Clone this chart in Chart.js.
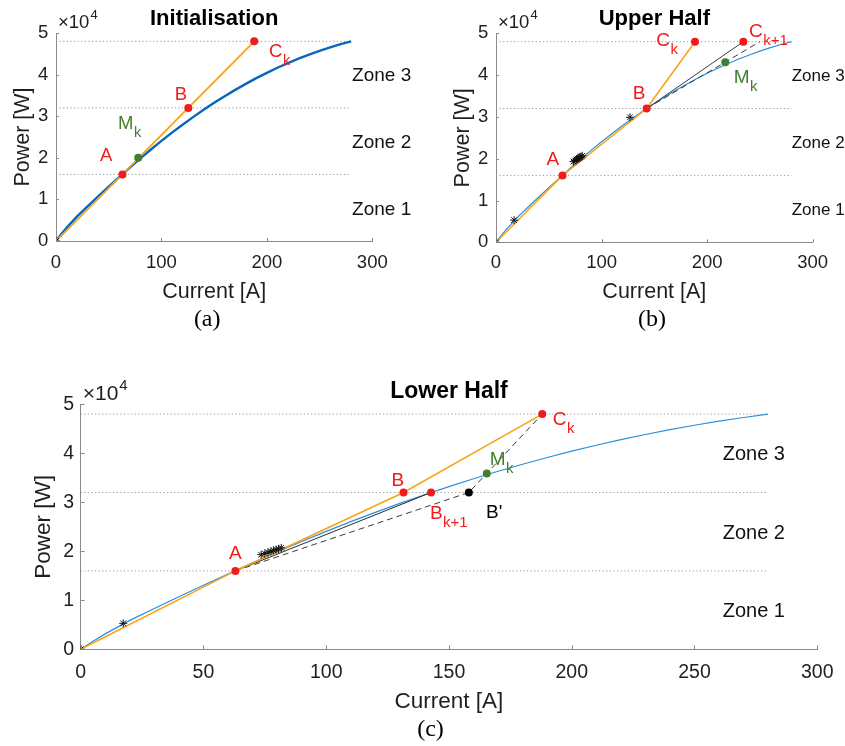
<!DOCTYPE html>
<html><head><meta charset="utf-8">
<script src="https://cdn.jsdelivr.net/npm/chart.js@4.4.0/dist/chart.umd.min.js"></script>
<style>
html,body{margin:0;padding:0;background:#fff;width:845px;height:746px;overflow:hidden;position:relative}
canvas{position:absolute}
</style></head><body>
<canvas id="ca" width="420" height="340" style="left:0;top:0"></canvas>
<canvas id="cb" width="425" height="340" style="left:420px;top:0"></canvas>
<canvas id="cc" width="845" height="396" style="left:0;top:350px"></canvas>
<script>
// ---------------- data ----------------
// shared power curve P(I)
const currentA = [0,5,10,20,30,40,50,60,70,80,90,100,110,120,130,140,150,160,170,180,190,200,210,220,230,240,250,260,270,280];
const powerW   = [0,1650,3150,5900,8330,10730,13080,15350,17650,19870,22000,24060,26050,27950,29780,31530,33210,34810,36330,37770,39140,40430,41650,42780,43840,44820,45730,46560,47310,47990];

const zoneLevels = [16000, 32000, 48000];
const zoneNames  = ['Zone 1', 'Zone 2', 'Zone 3'];
const zoneMid    = [8000, 24000, 40000];

const xTicksAB = [0, 100, 200, 300];
const xTicksC  = [0, 50, 100, 150, 200, 250, 300];
const yTicks   = [0, 10000, 20000, 30000, 40000, 50000];
const yTickLabels = ['0', '1', '2', '3', '4', '5'];
const yExponent = '4';

// (a) Initialisation: origin, A, B, C_k
const initI  = [0, 63, 125.5, 188];
const initP  = [0, 16000, 32000, 48000];
const initMk = [78, 20000];
const initStarI = [0];
const initStarP = [0];

// (b) Upper Half: origin, A, B, C_k
const upI   = [0, 63, 142.7, 188.5];
const upP   = [0, 16000, 32000, 48000];
const upCk1 = [234.3, 48000];
const upDashEnd = [250, 48000];
const upMk  = [217.2, 43100];
const upStarI = [0, 17.1, 73.5, 75, 76.3, 77.5, 78.6, 79.6, 80.6, 81.7, 126.9];
const upStarP = [0, 5300, 19300, 19550, 19800, 20000, 20200, 20350, 20500, 20700, 29900];

// (c) Lower Half: origin, A, B, C_k
const lowI   = [0, 63, 131.5, 188];
const lowP   = [0, 16000, 32000, 48000];
const lowBk1 = [142.7, 32000];
const lowBprime = [158.1, 32000];
const lowMk  = [165.4, 35900];
const lowStarI = [0, 17.3, 73.5, 75, 76.3, 77.5, 78.6, 79.6, 80.6, 81.7];
const lowStarP = [0, 5300, 19300, 19550, 19800, 20000, 20200, 20350, 20500, 20700];

// ---------------- styling ----------------
const SANS  = '"Liberation Sans", Arial, Helvetica, sans-serif';
const SERIF = '"Liberation Serif", "Times New Roman", serif';
const AXIS = '#8a8a8a', TICK = '#1f1f1f';
const RED = '#f21b1b', GREEN = '#3f7f2d', ORANGE = '#f9a31b';

const pts = (xs, ys) => xs.map((x, i) => ({x: x, y: ys[i]}));
const pt = (p) => [{x: p[0], y: p[1]}];

function lineDs(data, color, width, order, dash) {
  return {data: data, showLine: true, borderColor: color, borderWidth: width, borderDash: dash || [],
          pointRadius: 0, fill: false, tension: 0, order: order};
}
function dotDs(data, color, order) {
  return {data: data, showLine: false, pointRadius: 4, pointBackgroundColor: color, pointBorderWidth: 0,
          pointBorderColor: color, order: order};
}
function starDs(data) {
  return {data: data, showLine: false, pointStyle: 'star', pointRadius: 4, pointBorderColor: '#111',
          pointBorderWidth: 1, pointBackgroundColor: '#111', order: 0};
}
function zoneDs() {
  return zoneLevels.map(lv => lineDs([{x: currentA[0], y: lv}, {x: currentA[currentA.length - 1], y: lv}],
                                      '#9a9a9a', 1, 20, [1.2, 2.4]));
}

const decor = {
  id: 'decor',
  afterDraw(chart, args, o) {
    const ctx = chart.ctx, xs = chart.scales.x, ys = chart.scales.y, ca = chart.chartArea;
    ctx.save();
    // inward tick marks
    ctx.strokeStyle = AXIS; ctx.lineWidth = 1;
    xs.ticks.forEach(t => {
      const px = Math.round(xs.getPixelForValue(t.value)) + 0.5;
      ctx.beginPath(); ctx.moveTo(px, ca.bottom); ctx.lineTo(px, ca.bottom - o.tickLen); ctx.stroke();
    });
    ys.ticks.forEach(t => {
      const py = Math.round(ys.getPixelForValue(t.value)) + 0.5;
      ctx.beginPath(); ctx.moveTo(ca.left, py); ctx.lineTo(ca.left + o.tickLen, py); ctx.stroke();
    });
    ctx.textBaseline = 'alphabetic';
    // title
    ctx.font = 'bold ' + o.titleSize + 'px ' + SANS;
    ctx.fillStyle = '#000'; ctx.textAlign = 'center';
    ctx.fillText(o.title, (ca.left + ca.right) / 2, o.titleY + 0.358 * o.titleSize);
    // exponent x10^4
    ctx.fillStyle = TICK; ctx.textAlign = 'left';
    ctx.font = o.expSize + 'px ' + SANS;
    const ex = ca.left + 2, eb = ca.top - o.expDrop;
    ctx.fillText('\u00d710', ex, eb);
    const ew = ctx.measureText('\u00d710').width;
    ctx.font = Math.round(o.expSize * 0.72) + 'px ' + SANS;
    ctx.fillText(yExponent, ex + ew + 1, eb - o.expSize * 0.5);
    // zone labels
    ctx.font = o.zoneSize + 'px ' + SANS; ctx.fillStyle = '#111'; ctx.textAlign = 'left';
    zoneNames.forEach((z, i) => {
      ctx.fillText(z, xs.getPixelForValue(o.zoneX), ys.getPixelForValue(zoneMid[i]) + 0.358 * o.zoneSize);
    });
    // point labels
    o.labels.forEach(l => {
      const px = xs.getPixelForValue(l.at[0]) + l.dx;
      const py = ys.getPixelForValue(l.at[1]) + l.dy;
      ctx.font = o.labelSize + 'px ' + SANS; ctx.fillStyle = l.color; ctx.textAlign = 'left';
      const w0 = ctx.measureText(l.text[0]).width;
      const x0 = px - w0 / 2, base = py + 0.358 * o.labelSize;
      ctx.fillText(l.text, x0, base);
      if (l.sub) {
        const w = ctx.measureText(l.text).width;
        ctx.font = o.subSize + 'px ' + SANS;
        ctx.fillText(l.sub, x0 + w + 0.5, base + o.subDrop);
      }
    });
    // caption
    ctx.font = o.capSize + 'px ' + SERIF; ctx.fillStyle = '#000'; ctx.textAlign = 'center';
    ctx.fillText(o.caption, o.capX, o.capY + 0.25 * o.capSize);
    ctx.restore();
  }
};

function build(id, o, datasets) {
  const canvas = document.getElementById(id);
  const W = canvas.width, H = canvas.height;
  return new Chart(canvas, {
    type: 'scatter',
    data: {datasets: datasets},
    plugins: [decor],
    options: {
      responsive: false, animation: false, devicePixelRatio: 1,
      layout: {padding: {left: 0, top: o.top, right: W - o.right, bottom: 0}},
      plugins: {legend: {display: false}, tooltip: {enabled: false}, decor: o},
      scales: {
        x: {
          type: 'linear', min: 0, max: 300,
          afterFit: s => { s.height = H - o.bottom; },
          afterBuildTicks: s => { s.ticks = o.xTicks.map(v => ({value: v})); },
          ticks: {font: {size: o.tickSize, family: SANS}, color: TICK, padding: o.xPad, maxRotation: 0, autoSkip: false},
          grid: {display: false, drawTicks: false},
          border: {display: true, color: AXIS, width: 1},
          title: {display: true, text: 'Current [A]', color: TICK, font: {size: o.axSize, family: SANS},
                  padding: {top: 0, bottom: o.xTitlePad}}
        },
        y: {
          type: 'linear', min: 0, max: 50000,
          afterFit: s => { s.width = o.left; },
          afterBuildTicks: s => { s.ticks = yTicks.map(v => ({value: v})); },
          ticks: {font: {size: o.tickSize, family: SANS}, color: TICK, padding: o.yPad,
                  callback: v => yTickLabels[yTicks.indexOf(v)]},
          grid: {display: false, drawTicks: false},
          border: {display: true, color: AXIS, width: 1},
          title: {display: true, text: 'Power [W]', color: TICK, font: {size: o.axSize, family: SANS},
                  padding: {top: o.yTitlePad, bottom: 0}}
        }
      }
    }
  });
}

// ---------------- (a) ----------------
build('ca', {
  left: 56, right: 372.3, top: 33, bottom: 241, xTicks: xTicksAB,
  tickSize: 18.5, axSize: 21.5, xPad: 10.7, yPad: 7.7, xTitlePad: 35.5, yTitlePad: 10, tickLen: 3,
  title: 'Initialisation', titleSize: 22, titleY: 17.5, expSize: 18.5, expDrop: 5,
  zoneX: 280.8, zoneSize: 19, labelSize: 18.5, subSize: 14.5, subDrop: 8,
  caption: '(a)', capSize: 24, capX: 207.2, capY: 320,
  labels: [
    {text: 'A', at: [initI[1], initP[1]], dx: -16.3, dy: -19.8, color: RED},
    {text: 'B', at: [initI[2], initP[2]], dx: -7.5, dy: -15, color: RED},
    {text: 'C', sub: 'k', at: [initI[3], initP[3]], dx: 21.5, dy: 9.3, color: RED},
    {text: 'M', sub: 'k', at: initMk, dx: -12.5, dy: -35.6, color: GREEN}
  ]
}, [
  ...zoneDs(),
  lineDs(pts(currentA, powerW), '#0a64b8', 2.4, 8),
  lineDs(pts(initI, initP), ORANGE, 1.9, 6),
  dotDs(pts(initI.slice(1), initP.slice(1)), RED, 1),
  dotDs(pt(initMk), GREEN, 1),
  starDs(pts(initStarI, initStarP))
]);

// ---------------- (b) ----------------
build('cb', {
  left: 76, right: 392.7, top: 33.3, bottom: 242.3, xTicks: xTicksAB,
  tickSize: 18.5, axSize: 21.5, xPad: 9.4, yPad: 7.7, xTitlePad: 35.5, yTitlePad: 30, tickLen: 3,
  title: 'Upper Half', titleSize: 22, titleY: 17.5, expSize: 18.5, expDrop: 5,
  zoneX: 280.1, zoneSize: 17, labelSize: 19, subSize: 15, subDrop: 8,
  caption: '(b)', capSize: 24, capX: 232, capY: 320,
  labels: [
    {text: 'A', at: [upI[1], upP[1]], dx: -9.6, dy: -17.4, color: RED},
    {text: 'B', at: [upI[2], upP[2]], dx: -7.5, dy: -16, color: RED},
    {text: 'C', sub: 'k', at: [upI[3], upP[3]], dx: -31.8, dy: -2.4, color: RED},
    {text: 'C', sub: 'k+1', at: upCk1, dx: 12.5, dy: -11.4, color: RED},
    {text: 'M', sub: 'k', at: upMk, dx: 16.4, dy: 14.4, color: GREEN}
  ]
}, [
  ...zoneDs(),
  lineDs(pts(currentA, powerW), '#2b8fd9', 1.2, 8),
  lineDs(pts(upI, upP), ORANGE, 1.6, 6),
  lineDs([{x: upI[2], y: upP[2]}, {x: upCk1[0], y: upCk1[1]}], '#3a3a3a', 1, 7),
  lineDs([{x: upI[2], y: upP[2]}, {x: upDashEnd[0], y: upDashEnd[1]}], '#3a3a3a', 1, 7, [6, 4]),
  starDs(pts(upStarI, upStarP)),
  dotDs(pts(upI.slice(1), upP.slice(1)), RED, 1),
  dotDs(pt(upCk1), RED, 1),
  dotDs(pt(upMk), GREEN, 1)
]);

// ---------------- (c) ----------------
build('cc', {
  left: 80.7, right: 820, top: 54.3, bottom: 299.3, xTicks: xTicksC,
  tickSize: 19.5, axSize: 22.5, xPad: 11.5, yPad: 6.7, xTitlePad: 30.3, yTitlePad: 30.3, tickLen: 4,
  title: 'Lower Half', titleSize: 23, titleY: 39.5, expSize: 21, expDrop: 4,
  zoneX: 261.5, zoneSize: 20, labelSize: 19, subSize: 15, subDrop: 8,
  caption: '(c)', capSize: 24, capX: 430.5, capY: 379.5,
  labels: [
    {text: 'A', at: [lowI[1], lowP[1]], dx: 0, dy: -18.7, color: RED},
    {text: 'B', at: [lowI[2], lowP[2]], dx: -5.8, dy: -13.7, color: RED},
    {text: 'C', sub: 'k', at: [lowI[3], lowP[3]], dx: 17.4, dy: 4.3, color: RED},
    {text: 'M', sub: 'k', at: lowMk, dx: 10.9, dy: -15, color: GREEN},
    {text: 'B', sub: 'k+1', at: lowBk1, dx: 5.2, dy: 20, color: RED},
    {text: "B'", at: lowBprime, dx: 23.5, dy: 19, color: '#000'}
  ]
}, [
  ...zoneDs(),
  lineDs(pts(currentA, powerW), '#2b8fd9', 1.2, 8),
  lineDs(pts(lowI, lowP), ORANGE, 1.6, 6),
  lineDs([{x: lowI[1], y: lowP[1]}, {x: lowBk1[0], y: lowBk1[1]}], '#2a2a2a', 1, 7),
  lineDs([{x: lowI[1], y: lowP[1]}, {x: lowBprime[0], y: lowBprime[1]}, {x: lowI[3], y: lowP[3]}], '#3a3a3a', 1, 7, [6, 4]),
  starDs(pts(lowStarI, lowStarP)),
  dotDs(pts(lowI.slice(1), lowP.slice(1)), RED, 1),
  dotDs(pt(lowBk1), RED, 1),
  dotDs(pt(lowMk), GREEN, 1),
  dotDs(pt(lowBprime), '#000', 1)
]);
</script>
</body></html>
